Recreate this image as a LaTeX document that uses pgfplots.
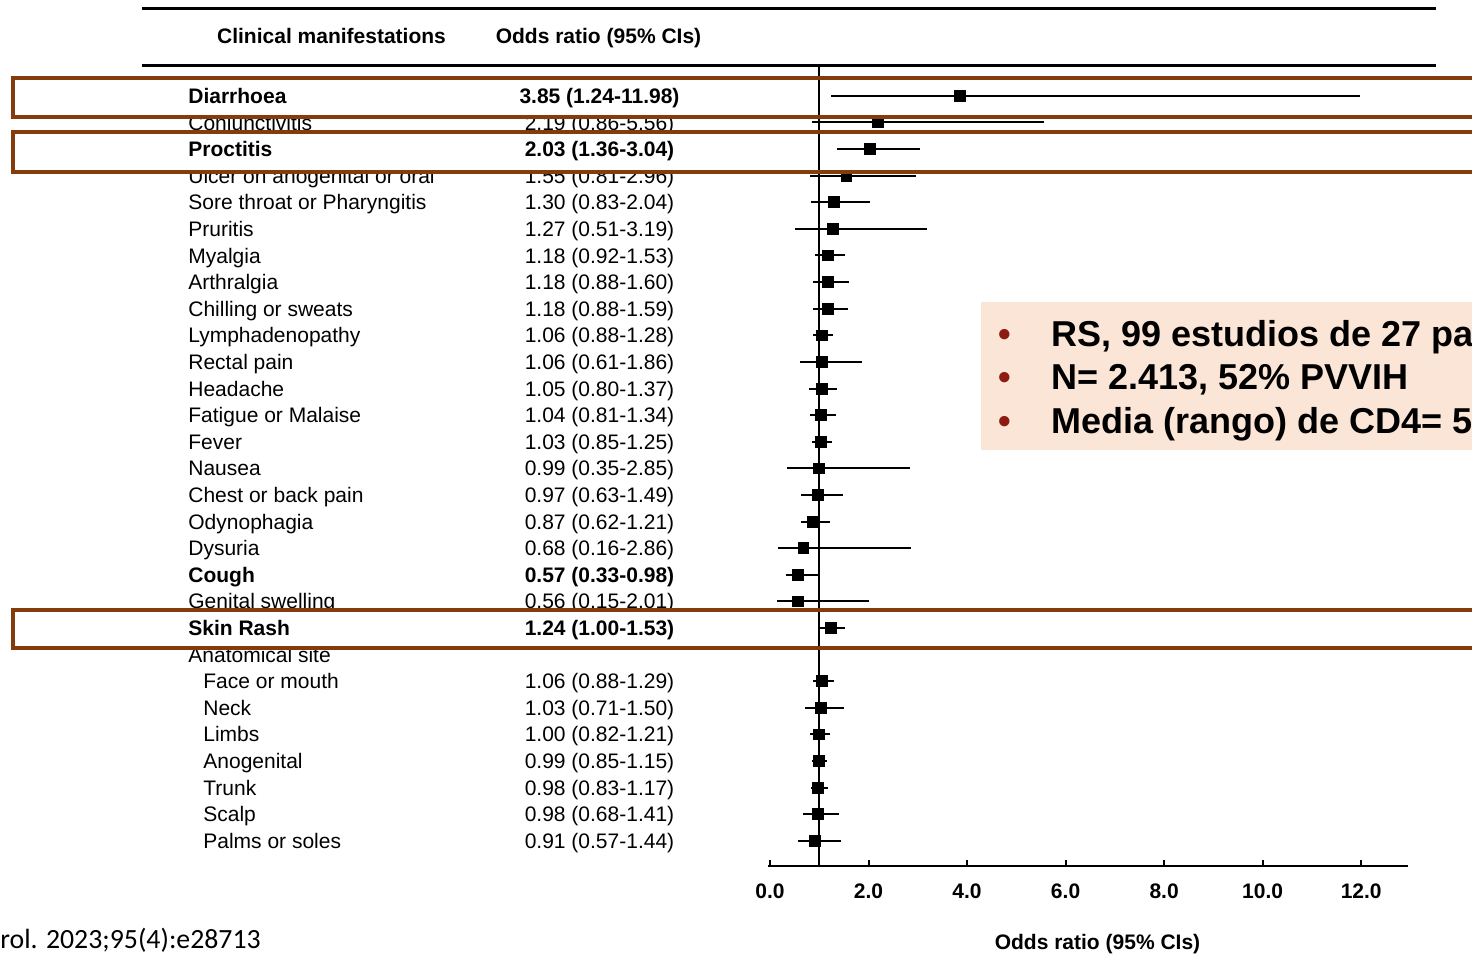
\documentclass[border=0pt]{standalone}
\usepackage{pgfplots}
\pgfplotsset{compat=1.18}
\usepackage{pgfplotstable}
\usepackage{fontspec}
\setmainfont{Liberation Sans}
\newfontfamily\carlito{Carlito}
\definecolor{boxbrown}{HTML}{843C0C}
\definecolor{peach}{HTML}{FBE5D6}
\definecolor{bulletred}{HTML}{8E1B12}

\pgfplotstableread{
row or lo hi
0 3.85 1.24 11.98
1 2.19 0.86 5.56
2 2.03 1.36 3.04
3 1.55 0.81 2.96
4 1.30 0.83 2.04
5 1.27 0.51 3.19
6 1.18 0.92 1.53
7 1.18 0.88 1.60
8 1.18 0.88 1.59
9 1.06 0.88 1.28
10 1.06 0.61 1.86
11 1.05 0.80 1.37
12 1.04 0.81 1.34
13 1.03 0.85 1.25
14 0.99 0.35 2.85
15 0.97 0.63 1.49
16 0.87 0.62 1.21
17 0.68 0.16 2.86
18 0.57 0.33 0.98
19 0.56 0.15 2.01
20 1.24 1.00 1.53
22 1.06 0.88 1.29
23 1.03 0.71 1.50
24 1.00 0.82 1.21
25 0.99 0.85 1.15
26 0.98 0.83 1.17
27 0.98 0.68 1.41
28 0.91 0.57 1.44
}\ortable

\newcommand{\rf}{\fontsize{10.5}{12}\selectfont}
\newcommand{\bfr}{\fontsize{10.5}{12}\selectfont\bfseries}
% row label: #1 row index, #2 x (px), #3 font, #4 text
\newcommand{\rowlab}[4]{\node[anchor=base west,inner sep=0,font=#3] at (#2,{96+26.6*#1+7.5}) {#4};}
% odds ratio text: #1 row index, #2 font, #3 text
\newcommand{\rowor}[3]{\node[anchor=base,inner sep=0,font=#2] at (599.5,{96+26.6*#1+7.5}) {#3};}

\begin{document}
\begin{tikzpicture}
\path[use as bounding box] (0,0) rectangle (736pt,-476.5pt);
\clip (0,0) rectangle (736pt,-476.5pt);

\begin{scope}[x=0.5pt,y=-0.5pt]
% header rules and titles
\draw[line width=1.5pt] (142,8) -- (1436,8);
\draw[line width=1.5pt] (142,65) -- (1436,65);
\node[anchor=base,inner sep=0,font=\bfr] at (331.5,43.5) {Clinical manifestations};
\node[anchor=base,inner sep=0,font=\bfr] at (598.5,43.5) {Odds ratio (95\% CIs)};

% non-boxed rows
\rowlab{1}{188}{\rf}{Conjunctivitis}        \rowor{1}{\rf}{2.19 (0.86-5.56)}
\rowlab{3}{188}{\rf}{Ulcer on anogenital or oral} \rowor{3}{\rf}{1.55 (0.81-2.96)}
\rowlab{4}{188}{\rf}{Sore throat or Pharyngitis}  \rowor{4}{\rf}{1.30 (0.83-2.04)}
\rowlab{5}{188}{\rf}{Pruritis}              \rowor{5}{\rf}{1.27 (0.51-3.19)}
\rowlab{6}{188}{\rf}{Myalgia}               \rowor{6}{\rf}{1.18 (0.92-1.53)}
\rowlab{7}{188}{\rf}{Arthralgia}            \rowor{7}{\rf}{1.18 (0.88-1.60)}
\rowlab{8}{188}{\rf}{Chilling or sweats}    \rowor{8}{\rf}{1.18 (0.88-1.59)}
\rowlab{9}{188}{\rf}{Lymphadenopathy}       \rowor{9}{\rf}{1.06 (0.88-1.28)}
\rowlab{10}{188}{\rf}{Rectal pain}          \rowor{10}{\rf}{1.06 (0.61-1.86)}
\rowlab{11}{188}{\rf}{Headache}             \rowor{11}{\rf}{1.05 (0.80-1.37)}
\rowlab{12}{188}{\rf}{Fatigue or Malaise}   \rowor{12}{\rf}{1.04 (0.81-1.34)}
\rowlab{13}{188}{\rf}{Fever}                \rowor{13}{\rf}{1.03 (0.85-1.25)}
\rowlab{14}{188}{\rf}{Nausea}               \rowor{14}{\rf}{0.99 (0.35-2.85)}
\rowlab{15}{188}{\rf}{Chest or back pain}   \rowor{15}{\rf}{0.97 (0.63-1.49)}
\rowlab{16}{188}{\rf}{Odynophagia}          \rowor{16}{\rf}{0.87 (0.62-1.21)}
\rowlab{17}{188}{\rf}{Dysuria}              \rowor{17}{\rf}{0.68 (0.16-2.86)}
\rowlab{18}{188}{\bfr}{Cough}               \rowor{18}{\bfr}{0.57 (0.33-0.98)}
\rowlab{19}{188}{\rf}{Genital swelling}     \rowor{19}{\rf}{0.56 (0.15-2.01)}
\rowlab{21}{188}{\rf}{Anatomical site}
\rowlab{22}{203}{\rf}{Face or mouth}        \rowor{22}{\rf}{1.06 (0.88-1.29)}
\rowlab{23}{203}{\rf}{Neck}                 \rowor{23}{\rf}{1.03 (0.71-1.50)}
\rowlab{24}{203}{\rf}{Limbs}                \rowor{24}{\rf}{1.00 (0.82-1.21)}
\rowlab{25}{203}{\rf}{Anogenital}           \rowor{25}{\rf}{0.99 (0.85-1.15)}
\rowlab{26}{203}{\rf}{Trunk}                \rowor{26}{\rf}{0.98 (0.83-1.17)}
\rowlab{27}{203}{\rf}{Scalp}                \rowor{27}{\rf}{0.98 (0.68-1.41)}
\rowlab{28}{203}{\rf}{Palms or soles}       \rowor{28}{\rf}{0.91 (0.57-1.44)}

% white interiors of highlight boxes
\fill[white] (12.5,78) rectangle (1490,116.5);
\fill[white] (12.5,132) rectangle (1490,172);
\fill[white] (12.5,609.5) rectangle (1490,648);

% boxed rows
\rowlab{0}{188}{\bfr}{Diarrhoea}            \rowor{0}{\bfr}{3.85 (1.24-11.98)}
\rowlab{2}{188}{\bfr}{Proctitis}            \rowor{2}{\bfr}{2.03 (1.36-3.04)}
\rowlab{20}{188}{\bfr}{Skin Rash}           \rowor{20}{\bfr}{1.24 (1.00-1.53)}
\end{scope}

\begin{axis}[
  at={(384pt,-433pt)}, anchor=south west,
  scale only axis, width=320pt, height=400.5pt,
  xmin=-0.04, xmax=12.95, ymin=-28.947, ymax=1.16,
  axis x line*=bottom, axis y line=none,
  x axis line style={-, line width=1.2pt},
  xtick={0,2,...,12}, tick align=inside, major tick length=3pt,
  tick style={line width=1pt, black},
  /pgf/number format/assume math mode=true,
  xticklabel style={font=\bfr, yshift=-5.5pt},
  xticklabel={\pgfmathprintnumber[fixed,fixed zerofill,precision=1]{\tick}},
  clip=false,
]
\addplot[black, line width=1pt] coordinates {(1,-28.947) (1,1.16)};
\addplot[only marks, mark=square*, mark size=2.7pt, black,
  error bars/.cd, x dir=both, x explicit, error mark=none,
  error bar style={line width=1pt, black}]
  table[x=or, y expr=-\thisrow{row},
        x error plus expr=\thisrow{hi}-\thisrow{or},
        x error minus expr=\thisrow{or}-\thisrow{lo}] {\ortable};
\end{axis}

\begin{scope}[x=0.5pt,y=-0.5pt]
% highlight box borders
\draw[boxbrown, line width=2pt] (1490,78) -- (12.5,78) -- (12.5,116.5) -- (1490,116.5);
\draw[boxbrown, line width=2pt] (1490,132) -- (12.5,132) -- (12.5,172) -- (1490,172);
\draw[boxbrown, line width=2pt] (1490,609.5) -- (12.5,609.5) -- (12.5,648) -- (1490,648);

% x axis title
\node[anchor=base,inner sep=0,font=\bfr] at (1097.5,949.5) {Odds ratio (95\% CIs)};

% summary box
\fill[peach] (981,302) rectangle (1490,450);
\foreach \yy/\tt in {346/{RS, 99 estudios de 27 pa}, 389/{N= 2.413, 52\% PVVIH}, 433/{Media (rango) de CD4= 5}}{
  \node[anchor=base,inner sep=0,text=bulletred,font=\fontsize{18}{20}\selectfont\bfseries] at (1005,\yy) {\textbullet};
  \node[anchor=base west,inner sep=0,font=\fontsize{18}{20}\selectfont\bfseries] at (1051,\yy) {\tt};
}

% citation
\node[anchor=base west,inner sep=0,font=\carlito\fontsize{13.9}{16}\selectfont] at (0,948) {rol. 2023;95(4):e28713};
\end{scope}
\end{tikzpicture}
\end{document}
